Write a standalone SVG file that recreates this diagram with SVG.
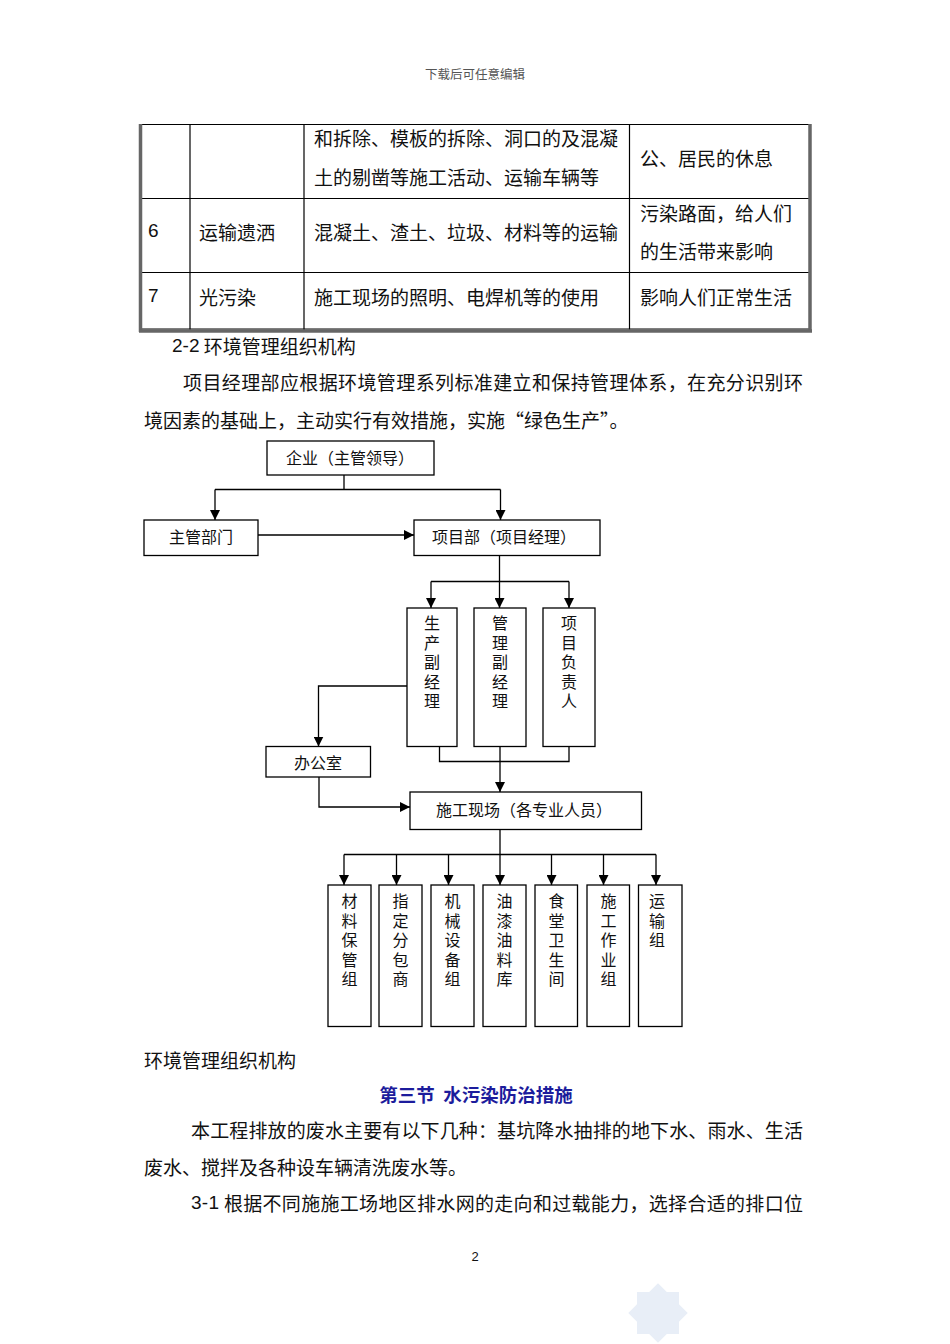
<svg xmlns="http://www.w3.org/2000/svg" width="950" height="1344" viewBox="0 0 950 1344">
<style>
.t{font-family:"Noto Sans CJK SC","Noto Sans",sans-serif;font-size:19px;fill:#111;dominant-baseline:central}
.n{font-family:"Liberation Sans","Noto Sans CJK SC",sans-serif;font-size:19px;fill:#111;dominant-baseline:central}
.f{font-family:"Noto Sans CJK SC",sans-serif;font-size:16px;fill:#111;dominant-baseline:central;text-anchor:middle}
.v{font-family:"Noto Sans CJK SC",sans-serif;font-size:16px;fill:#111;writing-mode:vertical-rl;text-orientation:upright;letter-spacing:3.6px}
.box{fill:#fff;stroke:#000;stroke-width:1.3}
.c{fill:none;stroke:#000;stroke-width:1.3}
.tl{stroke:#000;stroke-width:1.2}
.tb{stroke:#666;stroke-width:3.5}
</style>
<defs>
<marker id="ah" markerWidth="10" markerHeight="10" refX="10" refY="5" orient="auto" markerUnits="userSpaceOnUse">
<path d="M0,0 L10,5 L0,10 Z" fill="#000"/>
</marker>
</defs>
<rect width="950" height="1344" fill="#fff"/>
<text x="475" y="73" style="font-family:'Noto Sans CJK SC',sans-serif;font-size:12.5px;fill:#555;text-anchor:middle;dominant-baseline:central">下载后可任意编辑</text>

<g id="table">
<line class="tl" x1="140" y1="124.5" x2="809" y2="124.5"/>
<line class="tl" x1="140" y1="198.5" x2="809" y2="198.5"/>
<line class="tl" x1="140" y1="272.5" x2="809" y2="272.5"/>
<line class="tl" x1="190" y1="124" x2="190" y2="330"/>
<line class="tl" x1="304" y1="124" x2="304" y2="330"/>
<line class="tl" x1="629.5" y1="124" x2="629.5" y2="330"/>
<line class="tl" x1="140" y1="329" x2="809" y2="329"/>
<line class="tb" x1="140.5" y1="124" x2="140.5" y2="332"/>
<line class="tb" x1="810" y1="124" x2="810" y2="332"/>
<line class="tb" x1="139" y1="331" x2="812" y2="331"/>
<text class="t" x="314" y="137">和拆除、模板的拆除、洞口的及混凝</text>
<text class="t" x="314" y="176">土的剔凿等施工活动、运输车辆等</text>
<text class="t" x="640" y="157">公、居民的休息</text>
<text class="n" x="148" y="230">6</text>
<text class="t" x="199" y="231">运输遗洒</text>
<text class="t" x="314" y="231">混凝土、渣土、垃圾、材料等的运输</text>
<text class="t" x="640" y="212">污染路面，给人们</text>
<text class="t" x="640" y="250">的生活带来影响</text>
<text class="n" x="148" y="295">7</text>
<text class="t" x="199" y="296">光污染</text>
<text class="t" x="314" y="296">施工现场的照明、电焊机等的使用</text>
<text class="t" x="640" y="296">影响人们正常生活</text>
</g>

<text class="t" x="172" y="345"><tspan style="font-family:'Liberation Sans',sans-serif">2-2</tspan> 环境管理组织机构</text>
<text class="t" x="183" y="381" textLength="620" lengthAdjust="spacing">项目经理部应根据环境管理系列标准建立和保持管理体系，在充分识别环</text>
<text class="t" x="144" y="419">境因素的基础上，主动实行有效措施，实施“绿色生产”。</text>

<g id="connectors">
<path class="c" d="M344,475 V489.5"/>
<path class="c" d="M215,489.5 H500.5"/>
<path class="c" d="M215,489.5 V520" marker-end="url(#ah)"/>
<path class="c" d="M500.5,489.5 V520" marker-end="url(#ah)"/>
<path class="c" d="M258,535 H414" marker-end="url(#ah)"/>
<path class="c" d="M499.5,556 V608" marker-end="url(#ah)"/>
<path class="c" d="M431,581.5 H569"/>
<path class="c" d="M431,581.5 V608" marker-end="url(#ah)"/>
<path class="c" d="M569,581.5 V608" marker-end="url(#ah)"/>
<path class="c" d="M407,686 H318.5 V746.5" marker-end="url(#ah)"/>
<path class="c" d="M439.5,746.5 V761.5 H569 V746.5"/>
<path class="c" d="M500,746.5 V792" marker-end="url(#ah)"/>
<path class="c" d="M319,777 V807 H410" marker-end="url(#ah)"/>
<path class="c" d="M500,829.5 V854.5"/>
<path class="c" d="M344,854.5 H656"/>
<path class="c" d="M344,854.5 V885" marker-end="url(#ah)"/>
<path class="c" d="M396.5,854.5 V885" marker-end="url(#ah)"/>
<path class="c" d="M448.5,854.5 V885" marker-end="url(#ah)"/>
<path class="c" d="M500,854.5 V885" marker-end="url(#ah)"/>
<path class="c" d="M551.5,854.5 V885" marker-end="url(#ah)"/>
<path class="c" d="M603.5,854.5 V885" marker-end="url(#ah)"/>
<path class="c" d="M656,854.5 V885" marker-end="url(#ah)"/>
</g>

<g id="n-qiye"><rect class="box" x="267" y="441" width="167" height="34"/><text class="f" x="350" y="457">企业（主管领导）</text></g>
<g id="n-zhuguan"><rect class="box" x="144" y="520" width="114" height="35.5"/><text class="f" x="201" y="536">主管部门</text></g>
<g id="n-xiangmubu"><rect class="box" x="414" y="520" width="186" height="35.5"/><text class="f" x="504" y="536">项目部（项目经理）</text></g>

<g id="n-shengchan"><rect class="box" x="407" y="608" width="50" height="138.5"/><text class="v" x="432" y="615">生产副经理</text></g>
<g id="n-guanli"><rect class="box" x="474" y="608" width="52" height="138.5"/><text class="v" x="500" y="615">管理副经理</text></g>
<g id="n-fuzeren"><rect class="box" x="543" y="608" width="52" height="138.5"/><text class="v" x="569" y="615">项目负责人</text></g>

<g id="n-bangongshi"><rect class="box" x="266" y="746.5" width="104.5" height="30.5"/><text class="f" x="318" y="762">办公室</text></g>
<g id="n-xianchang"><rect class="box" x="410" y="792" width="231.5" height="37.5"/><text class="f" x="524" y="809">施工现场（各专业人员）</text></g>

<g id="n-cailiao"><rect class="box" x="328" y="885" width="43" height="141.5"/><text class="v" x="349.5" y="893">材料保管组</text></g>
<g id="n-zhiding"><rect class="box" x="379" y="885" width="43" height="141.5"/><text class="v" x="400.5" y="893">指定分包商</text></g>
<g id="n-jixie"><rect class="box" x="431" y="885" width="43" height="141.5"/><text class="v" x="452.5" y="893">机械设备组</text></g>
<g id="n-youqi"><rect class="box" x="483" y="885" width="43" height="141.5"/><text class="v" x="504.5" y="893">油漆油料库</text></g>
<g id="n-shitang"><rect class="box" x="535" y="885" width="42.5" height="141.5"/><text class="v" x="556.5" y="893">食堂卫生间</text></g>
<g id="n-shigong"><rect class="box" x="587" y="885" width="42.5" height="141.5"/><text class="v" x="608.5" y="893">施工作业组</text></g>
<g id="n-yunshu"><rect class="box" x="638.5" y="885" width="43.5" height="141.5"/><text class="v" x="657" y="893">运输组</text></g>

<text class="t" x="144" y="1059">环境管理组织机构</text>
<text x="476" y="1094" xml:space="preserve" style="font-family:'Noto Sans CJK SC',sans-serif;font-size:18.5px;font-weight:bold;fill:#1c1c9c;text-anchor:middle;dominant-baseline:central">第三节  水污染防治措施</text>
<text class="t" x="191" y="1129" textLength="612" lengthAdjust="spacing">本工程排放的废水主要有以下几种：基坑降水抽排的地下水、雨水、生活</text>
<text class="t" x="144" y="1166">废水、搅拌及各种设车辆清洗废水等。</text>
<text class="t" x="191" y="1202" textLength="612" lengthAdjust="spacing"><tspan style="font-family:'Liberation Sans',sans-serif">3-1</tspan> 根据不同施施工场地区排水网的走向和过载能力，选择合适的排口位</text>
<text x="475" y="1256" style="font-family:'Liberation Sans',sans-serif;font-size:13px;fill:#111;text-anchor:middle;dominant-baseline:central">2</text>

<g id="watermark" fill="#e8eef7">
<rect x="637" y="1292" width="42" height="42"/>
<rect x="637" y="1292" width="42" height="42" transform="rotate(45 658 1313)"/>
</g>
</svg>
